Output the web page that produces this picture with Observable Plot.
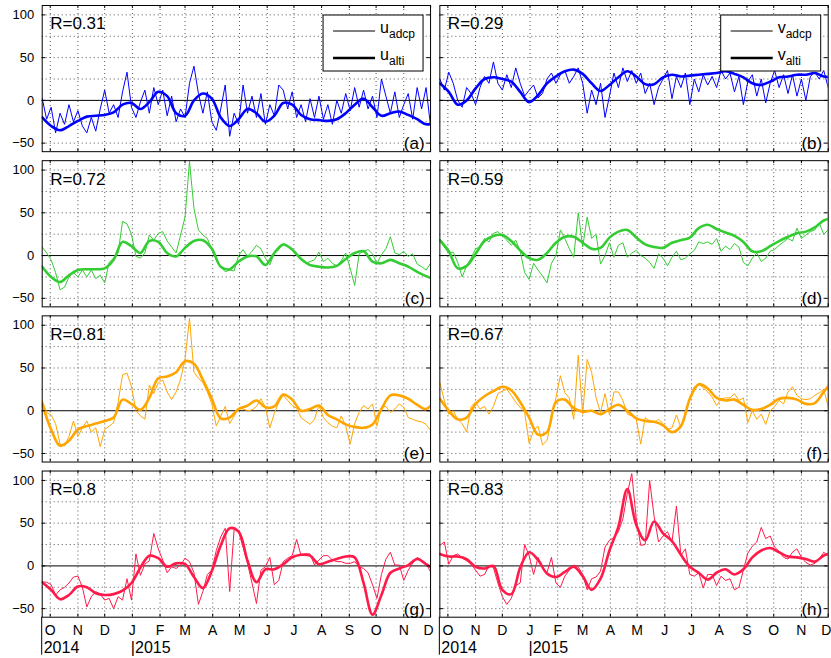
<!DOCTYPE html>
<html><head><meta charset="utf-8">
<script src="https://cdn.jsdelivr.net/npm/d3@7"></script>
<script src="https://cdn.jsdelivr.net/npm/@observablehq/plot@0.6"></script>
<style>body{margin:0;background:#fff;}</style>
</head><body><div id="chart"></div>
<script>
// ---------- labels & meta ----------
const monthLetters = ["J","F","M","A","M","J","J","A","S","O","N","D"];
const panelIds = ["a","b","c","d","e","f","g","h"];
const components = ["u","v"];
const rValues = [0.31, 0.29, 0.72, 0.59, 0.81, 0.67, 0.8, 0.83];
const rowColors = ["#0000ff", "#33cc33", "#ffa500", "#ff1a4a"];
const startDay = "2014-09-22", endDay = "2015-12-01", year2Day = "2015-01-01";
const yearLabels = ["2014", "|2015"];
const thinStepDays = 5, thickStepDays = 10;
const yTicks = [-50, 0, 50, 100];
const yGrid = [-50, -25, 25, 50, 75, 100];
const yDomain = [-60, 111];

// ---------- thin (ADCP) series, 5-day samples from startDay ----------
const aThin = [2,-22,-8,-38,-15,-28,-5,-25,-12,-30, -38,-20,-36,-10,12,-15,-5,-20,10,33, -8,-20,-2,12,-15,15,-5,12,-18,5, -25,-10,-20,20,40,8,-15,10,-25,-35, -10,18,-42,-15,-28,18,-15,5,-20,8, -28,-5,-18,18,12,-10,10,-20,-5,-25, 2,-20,5,-22,-5,-28,0,-15,8,-12, 15,-8,12,-10,5,-20,25,5,-15,10, -20,-5,8,-22,15,-10,15,-30];
const bThin = [25,12,33,20,0,-8,15,8,-5,15, 28,20,45,20,12,30,15,38,20,5, 12,18,3,8,25,32,20,30,35,20, 28,38,20,-15,12,-5,20,-20,5,32, 15,38,22,35,20,32,8,20,-5,15, 25,35,2,28,15,32,-5,25,10,30, 18,28,15,35,25,32,10,28,-5,22, 30,5,25,-3,20,35,15,30,8,30, 5,25,0,28,33,25,35,15];
const cThin = [10,3,-5,-20,-40,-37,-25,-20,-25,-17, -25,-17,-27,-23,-32,-8,-3,3,40,37, 25,-1,-3,3,24,18,26,28,17,10, 3,24,45,110,55,30,24,20,7,-5, -13,-19,-17,-18,0,7,-1,5,12,8, -3,-11,3,7,14,11,7,0,-5,-9, -7,-5,4,-7,-3,-9,-12,-6,3,-15, -35,2,5,7,2,-9,1,8,22,3, 1,5,-1,2,-10,-13,-17,-9];
const dThin = [18,10,3,4,-8,-25,-12,-3,8,10, 20,16,26,28,23,18,12,18,5,-20, -28,-9,-17,-24,-32,-9,0,30,20,8, -2,50,10,45,20,25,-10,0,15,-2, 12,15,-2,3,6,0,-3,-8,-15,2, -3,-12,-2,5,-5,-3,2,6,16,14, 16,13,20,5,11,7,14,10,-8,-12, -3,3,-7,-3,5,7,12,16,20,17, 32,20,24,28,30,38,25,30];
const eThin = [12,-2,-5,-15,-39,-41,-30,-12,-30,-20, -12,-25,-20,-42,-22,-18,-14,10,42,44, 28,0,-6,-10,30,20,33,36,22,13, 22,37,60,108,45,38,33,22,8,-18, -6,5,-15,-6,3,2,0,1,5,14, 4,-20,-3,10,18,12,6,3,-8,-12, -16,-10,6,-8,-14,-18,-20,-6,-18,-39, -15,-2,6,2,8,-18,4,5,-2,2, 8,4,-8,-10,-12,-13,-16,-23];
const fThin = [33,12,-4,0,-10,-15,-25,5,10,2, 5,-4,5,20,23,25,18,10,4,-2, -38,-23,-18,-40,-35,-10,15,41,21,15, -10,65,-4,60,45,15,-2,20,-5,22, 22,12,-4,-6,-10,-39,-8,-12,-14,-10, -15,-22,-20,-5,-20,-2,15,28,31,27, 22,16,6,14,15,15,20,12,15,-14, 0,-10,-4,-16,0,5,12,8,22,28, 18,14,13,14,18,21,25,5];
const gThin = [-19,-19,-22,-34,-28,-25,-20,-13,-12,-25, -48,-36,-30,-33,-40,-38,-50,-36,-40,-15, -40,14,-11,2,6,38,20,7,-8,-1, -3,1,9,5,-8,-45,-30,-10,-5,18, 34,44,-30,43,40,22,3,-20,-44,-5, -1,10,-22,-17,5,9,12,31,12,14, 14,1,7,12,12,7,5,5,3,3, 5,-1,-3,-8,-22,-38,-10,8,16,1, 1,-17,-5,3,10,7,3,-7];
const hThin = [24,28,2,12,14,9,6,2,-5,-12, -10,0,-2,-20,-36,-45,-38,-23,-20,25, 12,-10,10,-2,-8,10,-20,-25,-12,-5, 1,-1,-10,-28,-15,-13,-6,22,30,33, 40,55,85,108,55,24,25,100,58,28, 35,40,28,70,12,20,-10,-12,-8,-26, -10,-10,-23,-12,-17,-15,-28,-25,-5,15, 23,28,45,32,35,22,17,10,8,16, 20,10,4,1,3,8,16,12];

// ---------- thick (altimetry) series, 10-day samples from startDay ----------
const aThick = [-20,-30,-35,-30,-24,-19,-18,-17,-14,-5, -3,-10,-2,10,5,-15,-18,0,8,2, -20,-30,-22,-10,-15,-25,-18,-3,-5,-17, -22,-23,-24,-22,-15,-5,2,-8,-18,-15, -13,-17,-22,-28,-26];
const bThick = [20,10,-5,0,14,25,27,25,22,10, -2,6,20,28,34,36,31,20,11,18, 27,34,28,19,19,27,30,28,29,30, 31,32,34,31,27,20,18,22,27,28, 30,30,32,28,27];
const cThick = [-13,-25,-31,-23,-17,-16,-16,-15,-5,16, 11,3,17,16,3,-1,9,17,18,8, -13,-16,-7,-1,-1,-11,3,13,7,-4, -11,-13,-14,-12,-4,3,5,-7,-9,-5, -9,-13,-19,-24,-28];
const dThick = [18,5,-15,-12,2,17,23,24,17,6, -3,-5,3,15,22,22,15,8,9,21, 28,30,21,13,10,9,15,18,21,32, 36,31,27,23,16,5,5,11,17,22, 26,28,33,41,44];
const eThick = [8,-22,-41,-35,-22,-18,-15,-12,-8,13, 8,1,15,38,40,45,58,55,36,14, -9,-8,2,6,12,4,5,19,13,0, 2,6,-5,-10,-16,-19,-20,-16,2,18, 18,14,7,2,12];
const fThick = [14,0,-10,-8,8,17,23,28,24,10, -8,-28,-25,10,13,3,-1,0,-4,2, 7,0,-9,-12,-13,-17,-25,-18,14,31, 26,15,12,13,7,1,2,7,14,15, 13,8,9,22,35];
const gThick = [-19,-28,-39,-34,-24,-25,-32,-34,-33,-29, -20,-2,12,9,-1,3,2,-13,-26,-6, 24,44,40,6,-19,-4,-4,2,10,13, 12,2,5,8,11,10,-20,-57,-34,-8, -3,1,8,2,-5];
const hThick = [14,11,11,8,-1,-3,0,-28,-33,-2, 16,7,-9,-13,-7,-1,-12,-28,-15,18, 46,90,48,30,52,38,29,13,-1,-8, -16,-8,-4,-10,-4,10,18,21,16,11, 10,8,5,12,16];

// ---------- build tables ----------
const DAY = 864e5;
const t0 = new Date(startDay + "T00:00:00Z");
const t1 = new Date(endDay + "T00:00:00Z");
const tYear2 = new Date(year2Day + "T00:00:00Z");
const thinList = [aThin, bThin, cThin, dThin, eThin, fThin, gThin, hThin];
const thickList = [aThick, bThick, cThick, dThick, eThick, fThick, gThick, hThick];
const thin = [], thick = [], panels = [];
panelIds.forEach((id, p) => {
  const fx = components[p % 2], fy = Math.floor(p / 2) + 1, color = rowColors[fy - 1];
  panels.push({id, fx, fy, r: "R=" + rValues[p], tag: "(" + id + ")"});
  thinList[p].forEach((v, i) => thin.push({id, fx, fy, color, date: new Date(+t0 + i * thinStepDays * DAY), value: v}));
  thickList[p].forEach((v, i) => thick.push({id, fx, fy, color, date: new Date(+t0 + i * thickStepDays * DAY), value: v}));
});
const years = [];
components.forEach(c => {
  years.push({fx: c, fy: 4, date: t0, text: yearLabels[0], first: true});
  years.push({fx: c, fy: 4, date: tYear2, text: yearLabels[1], first: false});
});
const months = d3.utcMonth.range(t0, new Date(+t1 + DAY));
const gridMonths = months.filter(d => d > t0 && d < t1);
const innerMonths = months.filter(d => d < t1);
const lastMonth = months.filter(d => +d >= +t1);

const W = 831, H = 658, mL = 41.7, mR = 3.3, mT = 5, mB = 41.3;
const padX = 0.0234, padY = 0.058;
const dot = {stroke: "#555", strokeDasharray: "1,3", strokeWidth: 1};
const monthFmt = d => monthLetters[d.getUTCMonth()];

const chart = Plot.plot({
  width: W, height: H,
  marginLeft: mL, marginRight: mR, marginTop: mT, marginBottom: mB,
  style: {fontFamily: "'Liberation Sans', Arial, sans-serif", fontSize: "14px", color: "black", background: "white"},
  x: {type: "utc", domain: [t0, t1]},
  y: {domain: yDomain},
  fx: {domain: components, paddingInner: padX, paddingOuter: 0, axis: null, label: null, round: false},
  fy: {domain: [1, 2, 3, 4], paddingInner: padY, paddingOuter: 0, axis: null, label: null, round: false},
  color: {type: "identity"},
  marks: [
    Plot.ruleX(gridMonths, dot),
    Plot.ruleY(yGrid, dot),
    Plot.ruleY([0], {stroke: "black", strokeWidth: 1}),
    Plot.line(thin, {x: "date", y: "value", z: "id", fx: "fx", fy: "fy", stroke: "color", strokeWidth: 1, clip: true}),
    Plot.line(thick, {x: "date", y: "value", z: "id", fx: "fx", fy: "fy", stroke: "color", strokeWidth: 2.6, curve: "catmull-rom", clip: true}),
    Plot.ruleX(months, {y1: yDomain[0], y2: yDomain[0] + 3.5, stroke: "black"}),
    Plot.ruleX(months, {y1: yDomain[1] - 3.5, y2: yDomain[1], stroke: "black"}),
    Plot.ruleY(yTicks, {x1: t0, x2: new Date(+t0 + 4 * DAY), stroke: "black"}),
    Plot.ruleY(yTicks, {x1: new Date(+t1 - 4 * DAY), x2: t1, stroke: "black"}),
    Plot.frame({stroke: "black"}),
    Plot.axisX({ticks: innerMonths, tickFormat: monthFmt, tickSize: 0, tickPadding: 8, fontSize: 14, label: null}),
    Plot.axisX({ticks: lastMonth, tickFormat: monthFmt, tickSize: 0, tickPadding: 8, fontSize: 14, label: null, dx: -2}),
    Plot.axisY({ticks: yTicks, tickSize: 0, tickPadding: 8, fontSize: 13, label: null}),
    Plot.text(panels, {fx: "fx", fy: "fy", text: "r", frameAnchor: "top-left", dx: 8, dy: 18.5, lineAnchor: "middle", textAnchor: "start", fontSize: 17}),
    Plot.text(panels, {fx: "fx", fy: "fy", text: "tag", frameAnchor: "bottom-right", dx: -6, dy: -8, lineAnchor: "middle", textAnchor: "end", fontSize: 17}),
    Plot.text(years.filter(d => d.first), {fx: "fx", fy: "fy", x: "date", text: "text", frameAnchor: "bottom", dx: 1.5, dy: 36, lineAnchor: "bottom", textAnchor: "start", fontSize: 16}),
    Plot.text(years.filter(d => !d.first), {fx: "fx", fy: "fy", x: "date", text: "text", frameAnchor: "bottom", dx: -1.5, dy: 36, lineAnchor: "bottom", textAnchor: "start", fontSize: 16})
  ]
});
document.getElementById("chart").appendChild(chart);

// ---------- panel geometry for legend overlay ----------
let colLeft, colW, rowTop, rowH;
try {
  const sx = chart.scale("fx"), sy = chart.scale("fy");
  colLeft = c => sx.apply(c); colW = sx.bandwidth;
  rowTop = r => sy.apply(r); rowH = sy.bandwidth;
  if (!isFinite(colLeft("u")) || !isFinite(colW) || !isFinite(rowTop(1))) throw 0;
} catch (e) {
  const stepX = (W - mL - mR) / (2 - padX), stepY = (H - mT - mB) / (4 - padY);
  colLeft = c => mL + components.indexOf(c) * stepX; colW = stepX * (1 - padX);
  rowTop = r => mT + (r - 1) * stepY; rowH = stepY * (1 - padY);
}
const svg = d3.select(chart);
const font = "'Liberation Sans', Arial, sans-serif";
components.forEach(c => {
  const bx = colLeft(c) + colW - 7 - 100, by = rowTop(1) + 10;
  const g = svg.append("g").attr("text-anchor", "start");
  g.append("rect").attr("x", bx).attr("y", by).attr("width", 100).attr("height", 56)
    .attr("fill", "white").attr("stroke", "black").attr("stroke-width", 1);
  g.append("line").attr("x1", bx + 10).attr("x2", bx + 52).attr("y1", by + 16).attr("y2", by + 16)
    .attr("stroke", "black").attr("stroke-width", 1);
  g.append("line").attr("x1", bx + 10).attr("x2", bx + 52).attr("y1", by + 43).attr("y2", by + 43)
    .attr("stroke", "black").attr("stroke-width", 2.6);
  [["adcp", 17.5], ["alti", 45]].forEach(([sub, yy]) => {
    const t = g.append("text").attr("x", bx + 57).attr("y", by + yy).attr("font-family", font)
      .attr("text-anchor", "start").attr("font-size", 16).attr("fill", "black");
    t.append("tspan").text(c);
    t.append("tspan").attr("dy", 5).attr("font-size", 12).text(sub);
  });
  // left frame extension under the 2014 label
  const xl = colLeft(c), yb = rowTop(4) + rowH;
  svg.append("line").attr("x1", xl).attr("x2", xl).attr("y1", yb).attr("y2", yb + 38)
    .attr("stroke", "black").attr("stroke-width", 1);
});
</script></body></html>
